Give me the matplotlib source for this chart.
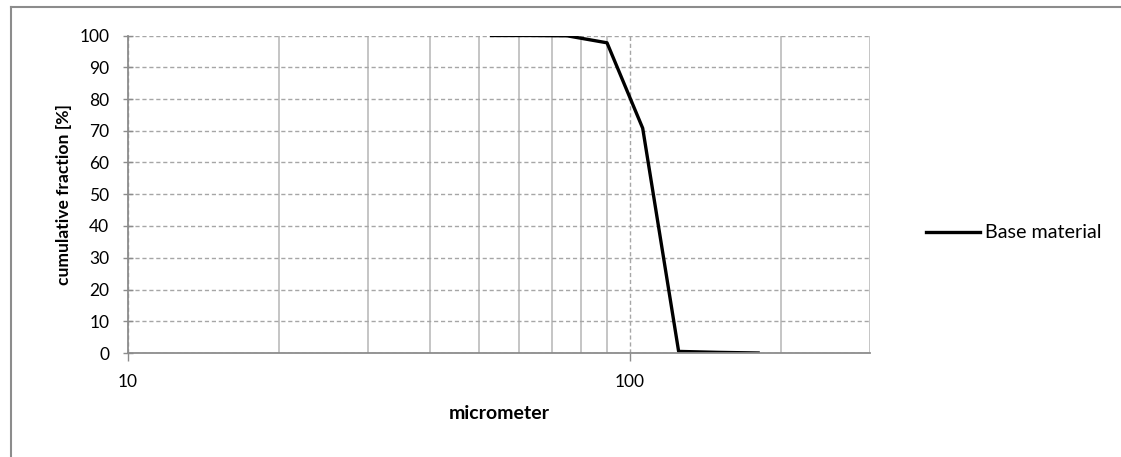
import matplotlib
matplotlib.use("Agg")
import matplotlib.pyplot as plt
from matplotlib.lines import Line2D
from matplotlib.ticker import FixedLocator, NullFormatter

plt.rcParams['font.family'] = ['Lato', 'DejaVu Sans']

# Sieve sizes (micrometer) and cumulative fraction passing (%)
size_um = [53, 63, 75, 90, 106, 125, 150, 180]
cum_fraction = [100, 100, 99.9, 97.7, 70.8, 0.5, 0.2, 0.0]
series_name = "Base material"

x_major = [10, 100]
x_minor = [20, 30, 40, 50, 60, 70, 80, 90, 200, 300]
y_ticks = list(range(0, 101, 10))

W, H = 1121, 457
fig = plt.figure(figsize=(W / 100, H / 100), dpi=100)
ax = fig.add_axes([128 / W, 1 - 353 / H, (869.5 - 128) / W, (353 - 35.5) / H])

axis_grey = "#8c8c8c"

ax.set_xscale("log")
ax.set_xlim(10, 300)
ax.set_ylim(0, 100)

# grid: dashed horizontals, solid minor verticals, dashed major vertical
ax.xaxis.set_major_locator(FixedLocator(x_major))
ax.xaxis.set_minor_locator(FixedLocator(x_minor))
ax.xaxis.set_minor_formatter(NullFormatter())
ax.set_xticklabels([str(v) for v in x_major])
ax.set_yticks(y_ticks)
ax.set_yticklabels([str(v) for v in y_ticks])

ax.grid(True, which="major", axis="y", color="#a6a6a6", linestyle=(0, (3, 2)), linewidth=1.0)
ax.grid(True, which="major", axis="x", color="#a6a6a6", linestyle=(0, (3, 2)), linewidth=1.0)
ax.grid(True, which="minor", axis="x", color="#c0c0c0", linestyle="-", linewidth=1.3)
ax.set_axisbelow(True)

for side in ("top", "right"):
    ax.spines[side].set_visible(False)
for side in ("left", "bottom"):
    ax.spines[side].set_color(axis_grey)
    ax.spines[side].set_linewidth(1.3)

ax.tick_params(axis="y", which="major", direction="inout", length=7, width=1.0,
               color=axis_grey, labelsize=12.5, pad=10)
ax.tick_params(axis="x", which="major", direction="out", length=6, width=1.0,
               color=axis_grey, labelsize=12.5, pad=9)
ax.tick_params(axis="x", which="minor", length=0)

ax.plot(size_um, cum_fraction, color="black", linewidth=2.4,
        solid_joinstyle="round", label=series_name)

ax.set_xlabel("micrometer", fontsize=14, fontweight="bold", labelpad=11)
ax.set_ylabel("cumulative fraction [%]", fontsize=12.6, fontweight="bold", labelpad=5)

fig.legend(handles=[Line2D([], [], color="black", linewidth=2.4)],
           labels=[series_name], loc="center left",
           bbox_to_anchor=(926 / W, 1 - 233 / H), frameon=False,
           fontsize=14.2, handlelength=2.75, handletextpad=0.25,
           borderpad=0, borderaxespad=0)

# chart-area border (left and top edges)
fig.add_artist(Line2D([10.5 / W, 10.5 / W], [0, 1 - 6.5 / H], transform=fig.transFigure,
                      color="#8c8c8c", linewidth=1.5))
fig.add_artist(Line2D([10.5 / W, 1], [1 - 6.5 / H, 1 - 6.5 / H], transform=fig.transFigure,
                      color="#8c8c8c", linewidth=1.5))

fig.savefig("out.png", dpi=100)
